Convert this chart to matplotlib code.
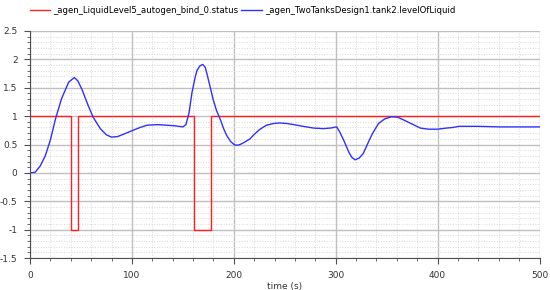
import matplotlib
matplotlib.use('Agg')
import matplotlib.pyplot as plt
from matplotlib.ticker import MultipleLocator

# ======= DATA ========
status_t = [0, 40, 47, 161, 178, 500]
status_v = [1, -1, 1, -1, 1, 1]

level_t = [0, 5, 10, 15, 20, 25, 31, 38, 43.5, 47, 51, 57, 62, 69, 75, 80, 86,
           93, 101, 108, 115, 125, 134, 142, 150, 153, 156, 159, 162, 164, 167,
           169.5, 172, 174, 177, 179.5, 183, 187, 190, 193, 197, 201, 205, 209.5,
           216, 219, 225, 232, 239, 245, 252, 259, 268, 278, 288, 295, 301,
           304, 308, 313, 316, 319, 323, 327, 331, 336, 342, 348, 355, 361,
           367, 375, 383, 391, 400, 409, 415, 421, 440, 461, 480, 500]
level_v = [0, 0.01, 0.12, 0.30, 0.58, 0.95, 1.31, 1.60, 1.68, 1.62, 1.47,
           1.19, 0.98, 0.78, 0.67, 0.63, 0.64, 0.69, 0.75, 0.80, 0.84, 0.85,
           0.84, 0.83, 0.81, 0.85, 1.05, 1.42, 1.68, 1.81, 1.89, 1.91, 1.86,
           1.72, 1.50, 1.31, 1.10, 0.93, 0.78, 0.66, 0.55, 0.49, 0.49, 0.53,
           0.60, 0.66, 0.76, 0.84, 0.87, 0.88, 0.87, 0.85, 0.82, 0.79, 0.78,
           0.79, 0.81, 0.72, 0.57, 0.36, 0.27, 0.23, 0.26, 0.34, 0.50, 0.69,
           0.87, 0.95, 0.99, 0.98, 0.93, 0.86, 0.79, 0.77, 0.77, 0.79, 0.80,
           0.82, 0.82, 0.81, 0.81, 0.81]

labels = ['_agen_LiquidLevel5_autogen_bind_0.status',
          '_agen_TwoTanksDesign1.tank2.levelOfLiquid']
# ======================

fig = plt.figure(figsize=(5.5, 2.9), dpi=100)
ax = fig.add_axes([30 / 550, 1 - 258 / 290, 509.5 / 550, 227 / 290])

l1, = ax.plot(status_t, status_v, color='#ff2020', lw=1, drawstyle='steps-post')
l2, = ax.plot(level_t, level_v, color='#3030ff', lw=1)

ax.set_xlim(0, 500)
ax.set_ylim(-1.5, 2.5)
ax.xaxis.set_major_locator(MultipleLocator(100))
ax.xaxis.set_minor_locator(MultipleLocator(20))
ax.yaxis.set_minor_locator(MultipleLocator(0.1))
ax.set_yticks([-1.5, -1, -0.5, 0, 0.5, 1, 1.5, 2, 2.5])
ax.set_yticklabels(['-1.5', '-1', '-0.5', '0', '0.5', '1', '1.5', '2', '2.5'])

ax.grid(which='major', color='#c0c0c0', lw=1, ls='-')
ax.grid(which='minor', color='#d8d8d8', lw=0.7, ls=':')
ax.set_axisbelow(True)

for s in ['top', 'right']:
    ax.spines[s].set_visible(False)
for s in ['left', 'bottom']:
    ax.spines[s].set_color('#505050')

ax.tick_params(which='major', length=4, width=0.8, color='#505050', labelsize=6.5,
               labelcolor='#333333', pad=5)
ax.tick_params(which='minor', length=2, width=0.6, color='#505050')

ax.set_xlabel('time (s)', fontsize=6.5, color='#333333', labelpad=2)

# legend across the top, outside the plot area
ax.legend([l1, l2], labels, loc='upper left', bbox_to_anchor=(27 / 550, 0.988),
          bbox_transform=fig.transFigure, ncol=2, frameon=False, fontsize=6.1,
          handlelength=2.4, handletextpad=0.35, columnspacing=0.4,
          borderaxespad=0, borderpad=0.3)

fig.savefig('out.png', dpi=100)
